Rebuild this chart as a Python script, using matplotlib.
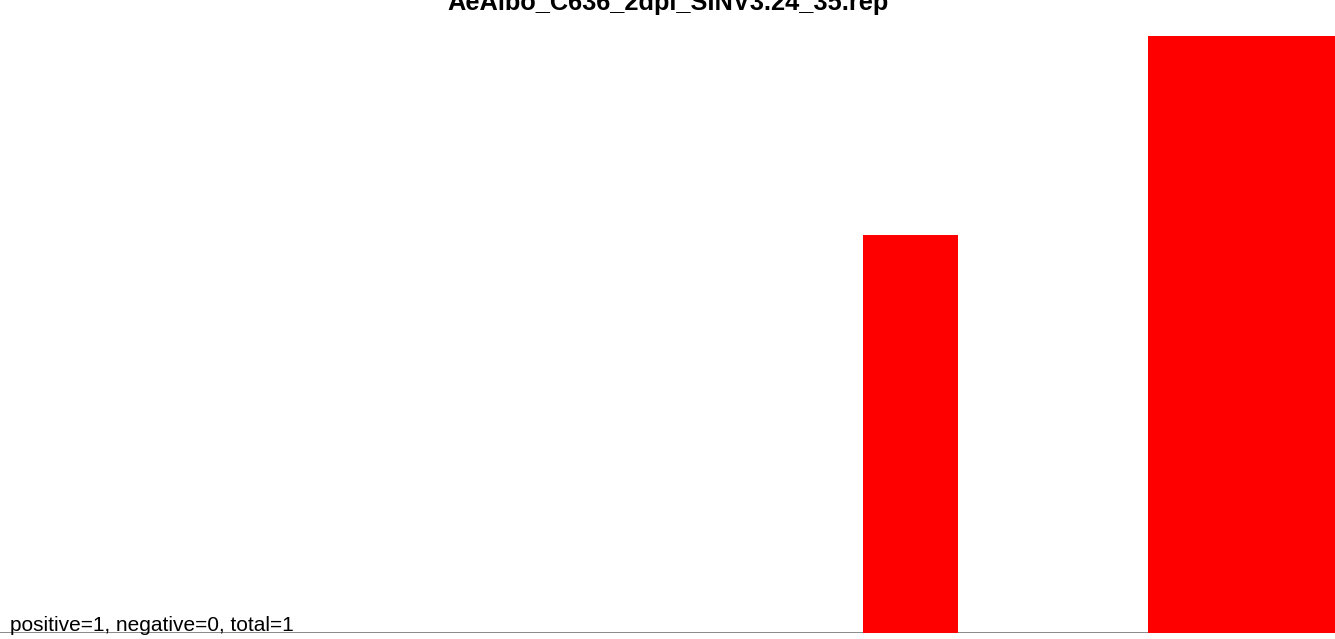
import matplotlib
matplotlib.use("Agg")
import matplotlib.pyplot as plt

# Chart data
title = "AeAlbo_C636_2dpi_SINV3.24_35.rep"
slots = list(range(14))
counts = [0, 0, 0, 0, 0, 0, 0, 0, 0, 2, 0, 0, 3, 3]
summary = "positive=1, negative=0, total=1"

plt.rcParams['font.family'] = ['Liberation Sans', 'DejaVu Sans']

fig = plt.figure(figsize=(13.35, 6.39), dpi=100)
ax = fig.add_axes([0, 6 / 639, 1, 597 / 639])

ax.bar(slots, counts, width=1.0, align='edge', color='#ff0000', zorder=2)
ax.axhline(0, color='#808080', linewidth=2, zorder=1)
ax.set_xlim(-0.12, len(slots) - 0.02)
ax.set_ylim(0, max(counts))
ax.axis('off')

fig.text(0.5, 1 - 10 / 639, title, ha='center', va='baseline',
         fontsize=18.3, fontweight='bold')
fig.text(10 / 1335, 8 / 639, summary, ha='left', va='baseline', fontsize=15)

fig.savefig("out.png", dpi=100)
